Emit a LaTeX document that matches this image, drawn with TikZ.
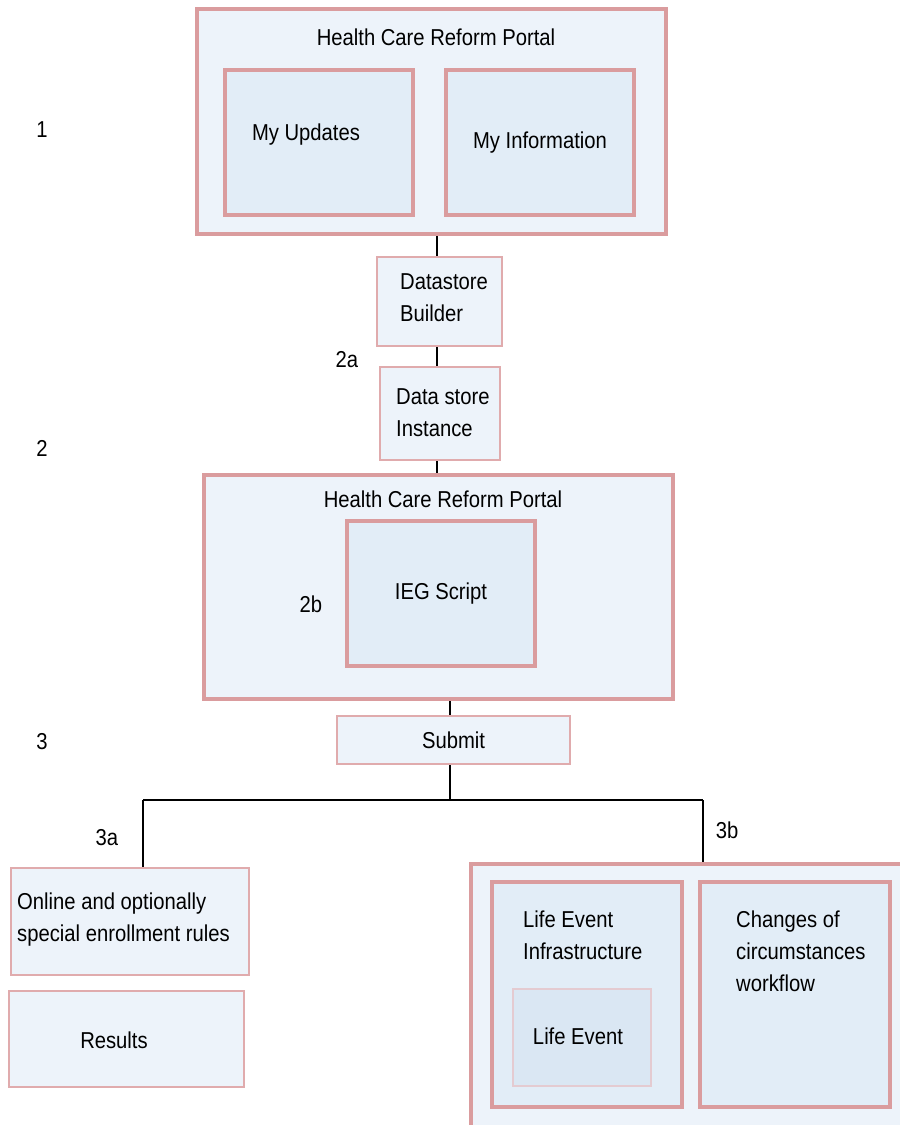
\documentclass[tikz,border=0pt]{standalone}
\usepackage{fontspec}
\setmainfont[FakeStretch=0.88]{Liberation Sans}
\usetikzlibrary{calc,positioning}
\definecolor{portalfill}{HTML}{EDF3FA}
\definecolor{panelfill}{HTML}{E2EDF7}
\definecolor{eventfill}{HTML}{DAE7F3}
\definecolor{portalline}{HTML}{DA9C9E}
\definecolor{eventline}{HTML}{E4CBD1}

\begin{document}
\begin{tikzpicture}[x=1pt, y=-1pt, font=\fontsize{23}{32}\selectfont,
		boxsize/.style 2 args={minimum width=#1pt, minimum height=#2pt},
		portal/.style={draw=portalline, fill=portalfill, line width=3.8pt, inner sep=0pt},
		panel/.style={draw=portalline, fill=panelfill, line width=3.2pt, inner sep=0pt},
		plain/.style={draw=portalline!85, fill=portalfill, line width=2.8pt, inner sep=0pt},
		txt/.style={inner sep=0pt, align=left},
		link/.style={line width=1.8pt}]
			\useasboundingbox (0,0) rectangle (900,1125);

			\foreach \n/\y in {1/130,2/448,3/742} {
				\node[txt] (step\n) at (42,\y) {\n};
			}

			\node[portal, boxsize={469}{225}] (portal1) at (431.5,121.5) {};
			\node[txt] (portal1title) at (436,37) {Health Care Reform Portal};
			\node[panel, boxsize={188}{145}] (updates) at (319,142.5) {};
			\node[txt] (updatestxt) at (306,135) {My Updates};
			\node[panel, boxsize={188}{145}] (info) at (540,142.5) {My Information};

			\node[plain, boxsize={125}{89}] (builder) at (439.5,301.5) {};
			\node[txt, anchor=west] (buildertxt) at (400,298) {Datastore\\Builder};
			\node[txt] (step2a) at (347,360) {2a};
			\node[plain, boxsize={120}{93}] (instance) at (440,413.5) {};
			\node[txt, anchor=west] (instancetxt) at (396,413) {Data store\\Instance};

			\node[portal, boxsize={469}{224}] (portal2) at (438.5,587) {};
			\node[txt] (portal2title) at (443,499) {Health Care Reform Portal};
			\node[panel, boxsize={188}{145}] (ieg) at (441,593.5) {IEG Script};
			\node[txt] (step2b) at (311,604) {2b};

			\node[plain, boxsize={233}{48}] (submit) at (453.5,740) {Submit};

			\coordinate (spine) at (437,300);
			\coordinate (fork) at (450,800);
			\coordinate (bar3a) at (143,800);
			\coordinate (bar3b) at (703,800);
			\node[txt] (step3a) at (107,838) {3a};
			\node[txt] (step3b) at (727,830) {3b};

			\node[plain, boxsize={238}{107}] (online) at (130,921.5) {};
			\node[txt, anchor=west] (onlinetxt) at (17,920) {Online and optionally\\special enrollment rules};
			\node[plain, boxsize={235}{96}] (results) at (126.5,1039) {};
			\node[txt] (resultstxt) at (114,1040) {Results};

			\node[portal, boxsize={444}{276}] (changes3b) at (693,1002) {};
			\node[panel, boxsize={190}{225}] (infra) at (587,994.5) {};
			\node[txt, anchor=north west] (infratxt) at (523,911) {Life Event\\Infrastructure};
			\node[draw=eventline, fill=eventfill, line width=2.8pt, boxsize={138}{97}] (event) at (582,1037.5) {};
			\node[txt] (eventtxt) at (578,1036) {Life Event};
			\node[panel, boxsize={190}{225}] (workflow) at (795,994.5) {};
			\node[txt, anchor=north west] (workflowtxt) at (736,911) {Changes of\\circumstances\\workflow};

			\draw[link] (spine |- builder.north) -- (spine |- portal1.south);
			\draw[link] (spine |- builder.south) -- (spine |- instance.north);
			\draw[link] (spine |- instance.south) -- (spine |- portal2.north);
			\draw[link] (submit.north -| fork) -- (fork |- portal2.south);
			\draw[link] (submit.south -| fork) -- (fork);
			\draw[link] (bar3a) -- (bar3b);
			\draw[link] (bar3a) -- (bar3a |- online.north);
			\draw[link] (bar3b) -- (bar3b |- changes3b.north);
		\end{tikzpicture}
\end{document}
